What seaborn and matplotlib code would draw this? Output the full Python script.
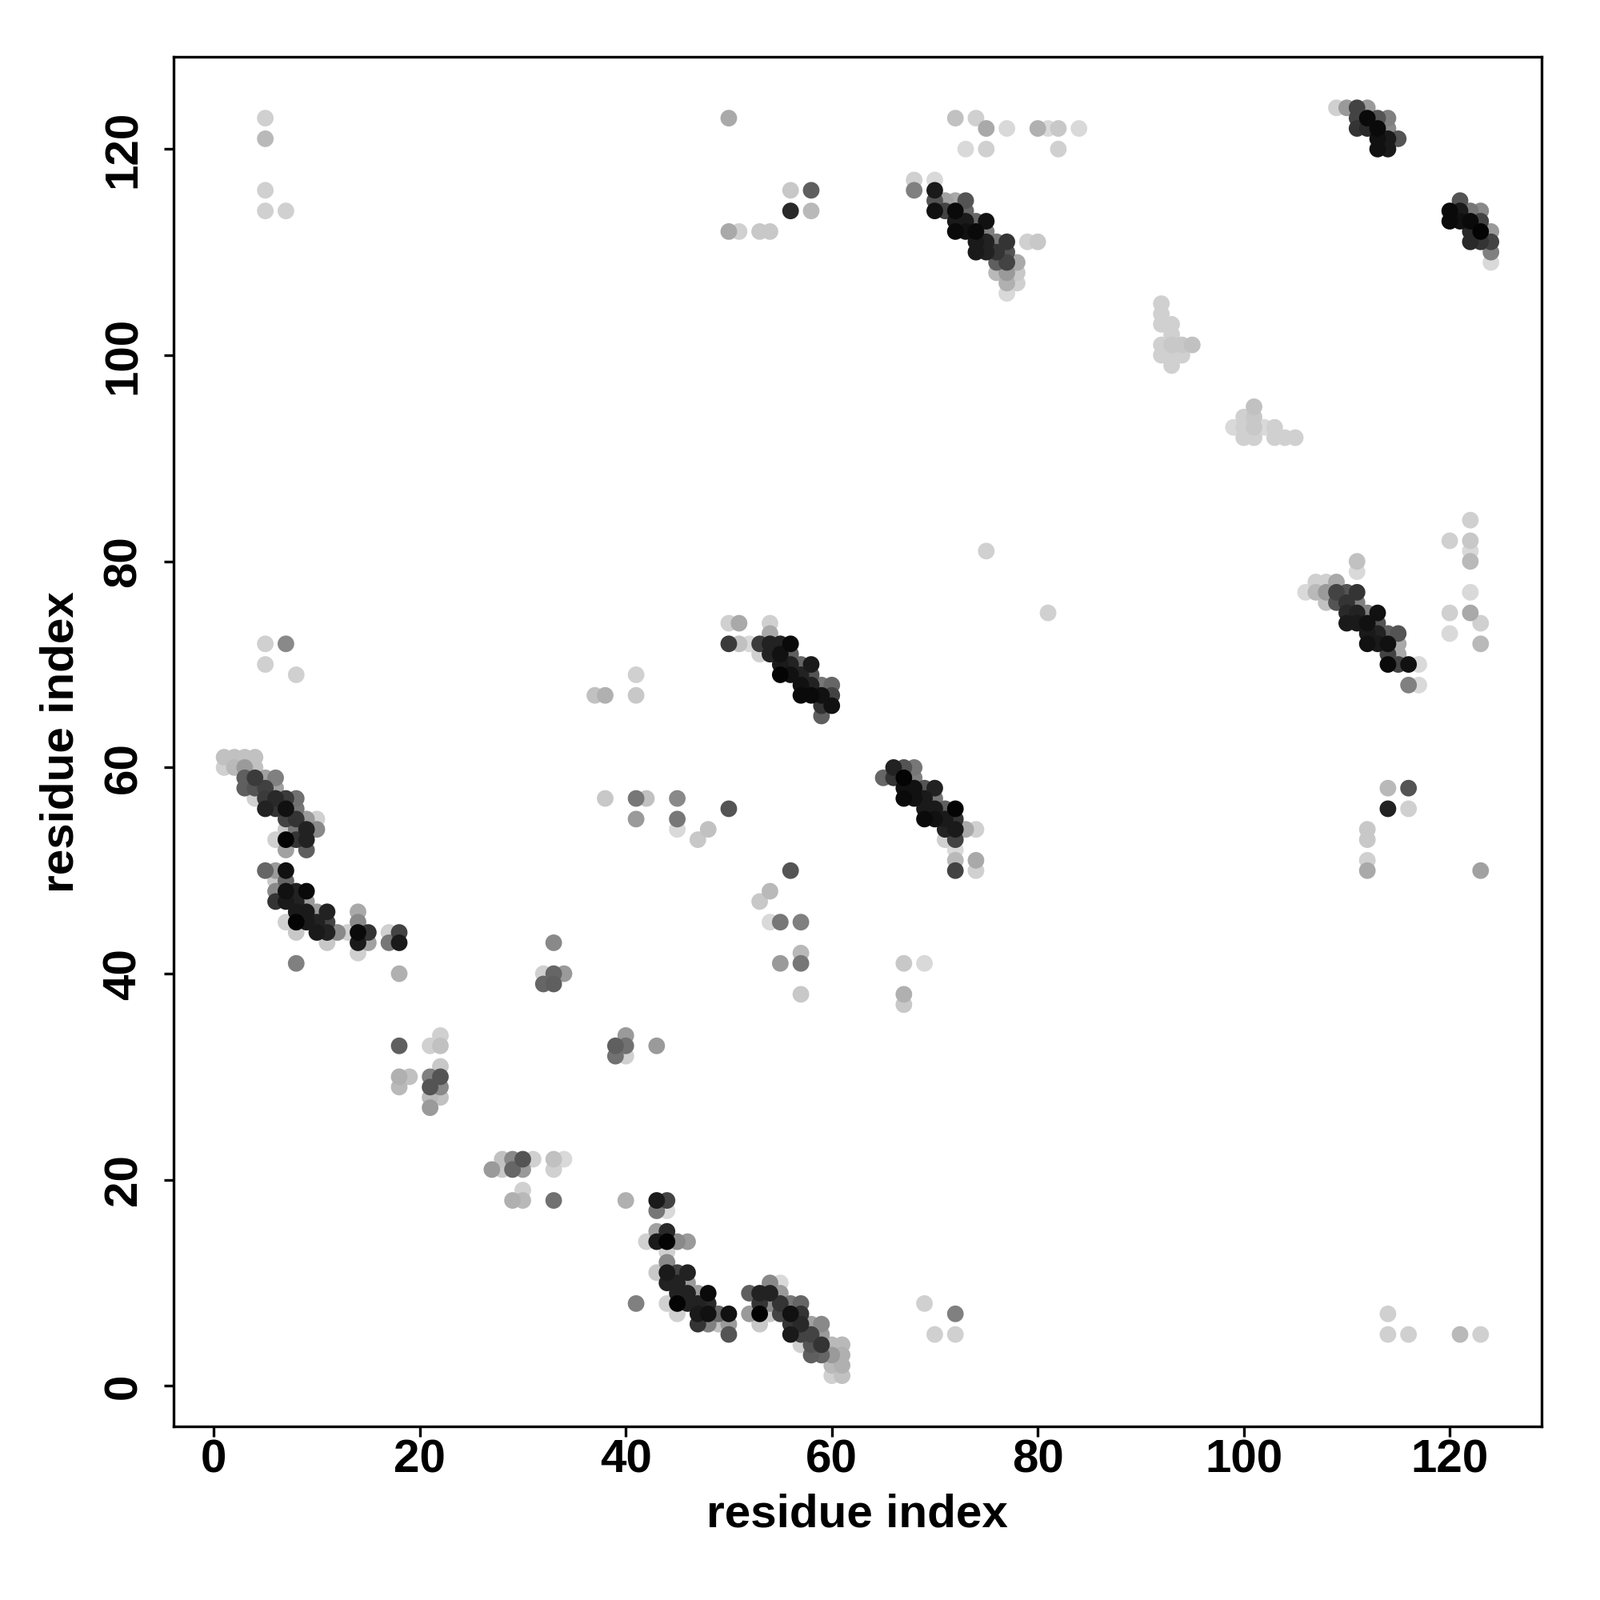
import pandas as pd
import matplotlib.pyplot as plt
import seaborn as sns
from matplotlib.colors import LinearSegmentedColormap

sns.set_style("ticks")
plt.rcParams["font.family"] = ["Liberation Sans", "DejaVu Sans"]
plt.rcParams["font.weight"] = "bold"
plt.rcParams["text.color"] = "black"
plt.rcParams["axes.labelcolor"] = "black"
plt.rcParams["xtick.color"] = "black"
plt.rcParams["ytick.color"] = "black"

# contact points as (residue i, residue j, contact probability)
strand_1_4 = [
    (1, 61, .11), (2, 61, .11), (3, 61, .11), (4, 61, .11),
    (1, 60, .04), (2, 60, .15), (3, 60, .29), (4, 60, .11),
    (3, 59, .56), (4, 59, .73), (5, 59, .26), (6, 59, .41),
    (3, 58, .56), (4, 58, .61), (5, 58, .70), (6, 58, .26),
    (4, 57, .04), (5, 57, .73), (6, 57, .81), (7, 57, .73), (8, 57, .48),
    (5, 56, .84), (6, 56, .76), (7, 56, .92), (8, 56, .45),
    (7, 55, .69), (8, 55, .76), (9, 55, .29), (10, 55, .04),
    (7, 54, .08), (8, 54, .45), (9, 54, .84), (10, 54, .37),
    (6, 53, .04), (7, 53, .98), (8, 53, .76), (9, 53, .84),
    (7, 52, .26), (9, 52, .56),
    (5, 50, .53), (6, 50, .29), (7, 50, .92),
    (6, 49, .08), (7, 49, .53),
    (6, 48, .37), (7, 48, .92), (8, 48, .84), (9, 48, .95),
    (6, 47, .76), (7, 47, .88), (8, 47, .84), (9, 47, .29),
    (8, 46, .88), (9, 46, .88), (10, 46, .29), (11, 46, .84), (14, 46, .22),
    (7, 45, .04), (8, 45, .98), (9, 45, .88), (10, 45, .84), (11, 45, .69), (14, 45, .37),
    (8, 44, .08), (10, 44, .88), (11, 44, .84), (12, 44, .37), (13, 44, .04),
    (14, 44, .95), (15, 44, .76), (17, 44, .04), (18, 44, .69),
    (11, 43, .08), (14, 43, .88), (15, 43, .26), (17, 43, .45), (18, 43, .88),
    (14, 42, .04), (8, 41, .41), (18, 40, .19),
]

loops_20_40 = [
    (18, 33, .56), (18, 30, .19), (18, 29, .15), (19, 30, .11),
    (21, 33, .04), (22, 34, .04), (22, 33, .11), (22, 31, .08),
    (21, 30, .41), (22, 30, .61), (21, 29, .61), (22, 29, .37),
    (21, 28, .15), (22, 28, .11), (21, 27, .29),
    (28, 22, .11), (29, 22, .37), (30, 22, .61), (31, 22, .04), (33, 22, .11), (34, 22, .0),
    (27, 21, .29), (28, 21, .08), (29, 21, .53), (30, 21, .29), (33, 21, .04),
    (30, 19, .04), (29, 18, .19), (30, 18, .15), (33, 18, .48),
    (33, 43, .37), (32, 40, .04), (33, 40, .53), (34, 40, .29), (32, 39, .53), (33, 39, .56),
    (40, 34, .29), (39, 33, .56), (40, 33, .48), (43, 33, .29), (39, 32, .48), (40, 32, .04),
]

strand_43_61 = [
    (40, 18, .19), (43, 18, .88), (44, 18, .69),
    (43, 17, .45), (44, 17, .0), (43, 15, .26), (44, 15, .81),
    (42, 14, .04), (43, 14, .88), (44, 14, .98), (45, 14, .37), (46, 14, .29),
    (44, 13, .04), (44, 12, .37),
    (43, 11, .08), (44, 11, .88), (45, 11, .69), (46, 11, .84),
    (44, 10, .84), (45, 10, .84), (46, 10, .29),
    (45, 9, .84), (46, 9, .84), (47, 9, .29), (48, 9, .95),
    (41, 8, .41), (44, 8, .04), (45, 8, .98), (46, 8, .84), (47, 8, .84), (48, 8, .81),
    (45, 7, .04), (47, 7, .88), (48, 7, .92), (49, 7, .53), (50, 7, .92),
    (47, 6, .76), (48, 6, .41), (49, 6, .11), (50, 6, .29), (50, 5, .61),
    (54, 10, .37), (55, 10, .0),
    (52, 9, .56), (53, 9, .84), (54, 9, .84), (55, 9, .29),
    (53, 8, .76), (54, 8, .37), (55, 8, .76), (56, 8, .45), (57, 8, .53),
    (52, 7, .29), (53, 7, .98), (54, 7, .08), (55, 7, .69), (56, 7, .92), (57, 7, .76),
    (53, 6, .08), (56, 6, .76), (57, 6, .81), (58, 6, .26), (59, 6, .37),
    (56, 5, .88), (57, 5, .69), (58, 5, .69), (59, 5, .29),
    (57, 4, .04), (58, 4, .61), (59, 4, .76), (60, 4, .15), (61, 4, .15),
    (58, 3, .56), (59, 3, .53), (60, 3, .29), (61, 3, .19),
    (60, 2, .15), (61, 2, .19), (60, 1, .04), (61, 1, .11),
]

strand_50_72 = [
    (50, 74, .04), (51, 74, .22), (54, 74, .04), (54, 73, .22),
    (50, 72, .73), (51, 72, .11), (52, 72, .0), (53, 72, .73), (54, 72, .84), (55, 72, .84), (56, 72, .95),
    (53, 71, .04), (54, 71, .84), (55, 71, .92), (56, 71, .56),
    (55, 70, .88), (56, 70, .84), (57, 70, .53), (58, 70, .88),
    (55, 69, .98), (56, 69, .92), (57, 69, .84), (58, 69, .61),
    (57, 68, .92), (58, 68, .84), (59, 68, .45), (60, 68, .53),
    (57, 67, .95), (58, 67, .95), (59, 67, .92), (60, 67, .69),
    (59, 66, .76), (60, 66, .92), (59, 65, .56),
    (41, 69, .04), (37, 67, .11), (38, 67, .19), (41, 67, .08),
    (38, 57, .08), (41, 57, .45), (42, 57, .11), (45, 57, .37),
    (50, 56, .61), (41, 55, .29), (45, 55, .45), (45, 54, .0), (48, 54, .11), (47, 53, .08),
    (56, 50, .61), (54, 48, .15), (53, 47, .08), (54, 45, .0), (55, 45, .45), (57, 45, .41),
    (57, 42, .15), (55, 41, .29), (57, 41, .45), (67, 41, .08), (69, 41, .0),
    (57, 38, .08), (67, 38, .19), (67, 37, .08),
]

strand_66_72 = [
    (66, 60, .84), (67, 60, .61), (68, 60, .45),
    (65, 59, .53), (66, 59, .76), (67, 59, .98), (68, 59, .41),
    (67, 58, .92), (68, 58, .92), (69, 58, .61), (70, 58, .84),
    (67, 57, .95), (68, 57, .92), (69, 57, .88), (70, 57, .45),
    (69, 56, .88), (70, 56, .88), (71, 56, .56), (72, 56, .98),
    (69, 55, .95), (70, 55, .92), (71, 55, .88), (72, 55, .76),
    (71, 54, .84), (72, 54, .88), (73, 54, .22), (74, 54, .04),
    (71, 53, .04), (72, 53, .69),
    (72, 52, .0), (72, 51, .15), (74, 51, .22), (72, 50, .69), (74, 50, .04),
]

strand_70_116 = [
    (72, 123, .11), (74, 123, .04),
    (75, 122, .22), (77, 122, .0), (80, 122, .19), (81, 122, .0), (82, 122, .08), (84, 122, .0),
    (73, 120, .0), (75, 120, .04), (82, 120, .04),
    (68, 117, .04), (70, 117, .0), (68, 116, .41), (70, 116, .88),
    (70, 115, .61), (71, 115, .26), (72, 115, .22), (73, 115, .61),
    (70, 114, .92), (71, 114, .69), (72, 114, .95), (73, 114, .53),
    (72, 113, .88), (73, 113, .88), (74, 113, .53), (75, 113, .92),
    (72, 112, .95), (73, 112, .92), (74, 112, .95), (75, 112, .41),
    (74, 111, .88), (75, 111, .84), (76, 111, .45), (77, 111, .76), (79, 111, .04), (80, 111, .08),
    (74, 110, .88), (75, 110, .84), (76, 110, .76), (77, 110, .61),
    (76, 109, .56), (77, 109, .69), (78, 109, .22),
    (76, 108, .15), (77, 108, .29), (78, 108, .08),
    (77, 107, .19), (78, 107, .04), (77, 106, .0),
    (50, 123, .22), (56, 116, .08), (58, 116, .56), (56, 114, .81), (58, 114, .15),
    (50, 112, .22), (51, 112, .04), (53, 112, .08), (54, 112, .08),
    (5, 123, .04), (5, 121, .15), (5, 116, .04), (5, 114, .04), (7, 114, .04),
    (5, 72, .04), (7, 72, .37), (5, 70, .04), (8, 69, .04),
]

helix_90_105 = [
    (92, 105, .04), (92, 104, .04), (92, 103, .04), (93, 103, .04), (93, 102, .04),
    (92, 101, .04), (93, 101, .08), (94, 101, .08), (95, 101, .11),
    (92, 100, .04), (93, 100, .04), (94, 100, .04), (93, 99, .04),
    (101, 95, .11), (100, 94, .04), (101, 94, .08),
    (99, 93, .0), (100, 93, .04), (101, 93, .08), (102, 93, .0), (103, 93, .04),
    (100, 92, .04), (101, 92, .04), (103, 92, .04), (104, 92, .04), (105, 92, .04),
]

strand_106_124 = [
    (109, 124, .04), (110, 124, .29), (111, 124, .69), (112, 124, .29),
    (111, 123, .69), (112, 123, .95), (113, 123, .61), (114, 123, .41),
    (111, 122, .76), (112, 122, .81), (113, 122, .95), (114, 122, .37),
    (113, 121, .92), (114, 121, .88), (115, 121, .61),
    (113, 120, .92), (114, 120, .88),
    (121, 115, .61),
    (120, 114, .95), (121, 114, .88), (122, 114, .45), (123, 114, .37),
    (120, 113, .95), (121, 113, .92), (122, 113, .95), (123, 113, .69),
    (122, 112, .81), (123, 112, .98), (124, 112, .29),
    (122, 111, .81), (123, 111, .76), (124, 111, .69),
    (124, 110, .41), (124, 109, .0),
    (122, 84, .04), (120, 82, .04), (122, 82, .08), (122, 81, .0),
    (111, 80, .11), (122, 80, .15), (111, 79, .0),
    (107, 78, .04), (108, 78, .04), (109, 78, .22),
    (106, 77, .0), (107, 77, .15), (108, 77, .29), (109, 77, .69), (110, 77, .61), (111, 77, .76), (122, 77, .0),
    (108, 76, .11), (109, 76, .61), (110, 76, .76), (111, 76, .41),
    (110, 75, .81), (111, 75, .84), (112, 75, .41), (113, 75, .92), (120, 75, .04), (122, 75, .22),
    (110, 74, .88), (111, 74, .88), (112, 74, .92), (113, 74, .61), (123, 74, .04),
    (112, 73, .88), (113, 73, .84), (114, 73, .56), (115, 73, .61), (120, 73, .0),
    (112, 72, .92), (113, 72, .88), (114, 72, .92), (115, 72, .22), (123, 72, .15),
    (114, 71, .69), (115, 71, .22),
    (114, 70, .95), (115, 70, .69), (116, 70, .92), (117, 70, .0),
    (116, 68, .41), (117, 68, .0),
    (114, 58, .15), (116, 58, .61), (114, 56, .84), (116, 56, .04),
    (112, 54, .08), (112, 53, .08), (112, 51, .04), (112, 50, .22), (123, 50, .26),
]

scattered = [
    (69, 8, .04), (70, 5, .04), (72, 7, .41), (72, 5, .04),
    (114, 7, .04), (114, 5, .04), (116, 5, .04), (121, 5, .15), (123, 5, .04),
    (75, 81, .04), (81, 75, .04),
]

rows = (strand_1_4 + loops_20_40 + strand_43_61 + strand_50_72 + strand_66_72
        + strand_70_116 + helix_90_105 + strand_106_124 + scattered)
df = pd.DataFrame(rows, columns=["i", "j", "prob"]).sort_values("prob")

grays = LinearSegmentedColormap.from_list("grays", ["#d9d9d9", "#000000"])

fig = plt.figure(figsize=(10, 10), dpi=200)
ax = fig.add_axes([0.1084, 0.1085, 0.8551, 0.8558])
sns.scatterplot(data=df, x="i", y="j", hue="prob", palette=grays, hue_norm=(0, 1),
                s=56, linewidth=0, legend=False, ax=ax)

ax.set_xlim(-3.92, 128.92)
ax.set_ylim(-3.92, 128.92)
ax.set_xticks(range(0, 121, 20))
ax.set_yticks(range(0, 121, 20))
ax.set_xlabel("residue index", fontsize=21, fontweight="bold", labelpad=5)
ax.set_ylabel("residue index", fontsize=21, fontweight="bold", labelpad=9)
ax.tick_params(axis="both", labelsize=21, length=4.5, width=1.2, direction="out")
ax.tick_params(axis="x", pad=1)
ax.tick_params(axis="y", pad=8)
for lab in ax.get_yticklabels():
    lab.set_rotation(90)
    lab.set_va("center")
for lab in ax.get_xticklabels() + ax.get_yticklabels():
    lab.set_fontweight("bold")
for sp in ax.spines.values():
    sp.set_visible(True)
    sp.set_linewidth(1.2)
    sp.set_color("black")

fig.savefig("out.png", dpi=200, facecolor="white")
